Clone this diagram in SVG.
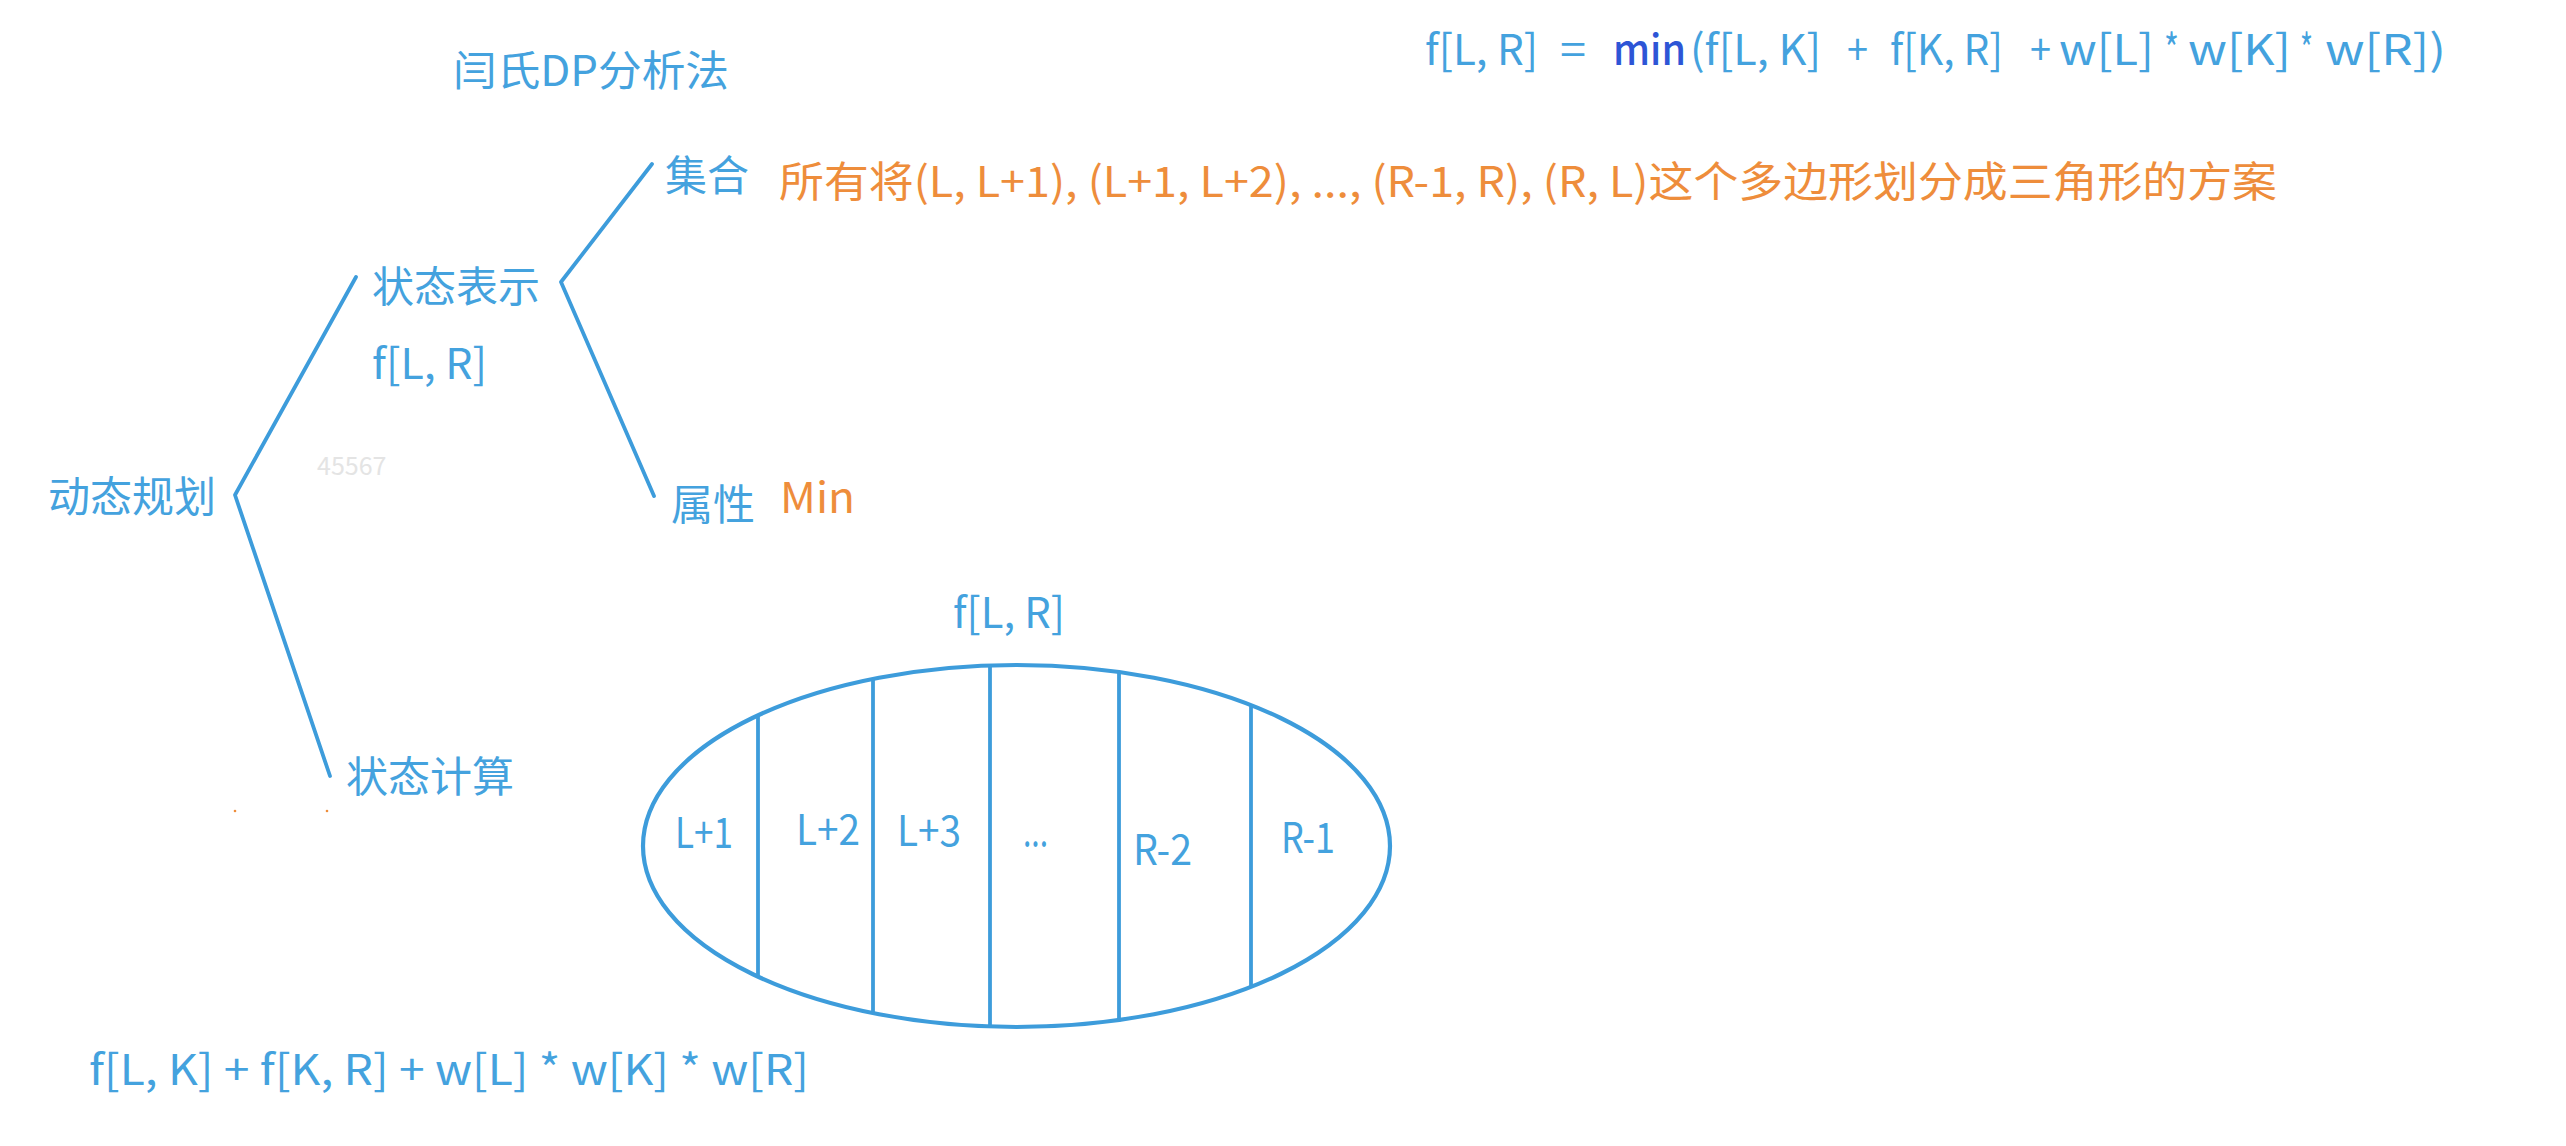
<svg xmlns="http://www.w3.org/2000/svg" width="2566" height="1146" viewBox="0 0 2566 1146">
<style>
text{font-family:"Noto Sans CJK SC","Noto Sans",sans-serif;font-size:42px;fill:#44a2de}
.or{fill:#ee8d3b}
.mn{fill:#2d55d6;font-weight:500}
.wm{fill:#e4e4e4;font-size:25px}
.ln{stroke:#3d9cdb;stroke-width:3.8;fill:none;stroke-linejoin:round;stroke-linecap:round}
.lab{font-size:42px}
</style>
<rect width="2566" height="1146" fill="#ffffff"/>
<g id="title"><text x="453" y="86" font-size="43" textLength="276" lengthAdjust="spacingAndGlyphs">闫氏DP分析法</text></g>
<g id="formula-top">
<text x="1425" y="65" textLength="113" lengthAdjust="spacingAndGlyphs">f[L, R]</text>
<text x="1560" y="65" textLength="26" lengthAdjust="spacingAndGlyphs">=</text>
<text x="1613" y="65" class="mn" textLength="73" lengthAdjust="spacingAndGlyphs">min</text>
<text x="1690" y="65" textLength="131" lengthAdjust="spacingAndGlyphs">(f[L, K]</text>
<text x="1847" y="65" textLength="21" lengthAdjust="spacingAndGlyphs">+</text>
<text x="1890" y="65" textLength="113" lengthAdjust="spacingAndGlyphs">f[K, R]</text>
<text x="2030" y="65" textLength="21" lengthAdjust="spacingAndGlyphs">+</text>
<text x="2059" y="65" textLength="95" lengthAdjust="spacingAndGlyphs">w[L]</text>
<text x="2164" y="65" textLength="15" lengthAdjust="spacingAndGlyphs">*</text>
<text x="2188" y="65" textLength="103" lengthAdjust="spacingAndGlyphs">w[K]</text>
<text x="2300" y="65" textLength="13" lengthAdjust="spacingAndGlyphs">*</text>
<text x="2325" y="65" textLength="121" lengthAdjust="spacingAndGlyphs">w[R])</text>
</g>
<g id="dp"><text x="48" y="512">动态规划</text></g>
<g id="watermark"><text class="wm" x="317" y="475">45567</text></g>
<g id="state-repr"><text x="372" y="302">状态表示</text><text x="372" y="379" textLength="115" lengthAdjust="spacingAndGlyphs">f[L, R]</text></g>
<g id="set"><text x="665" y="191">集合</text><text class="or" x="779" y="197" font-size="41" textLength="1498" lengthAdjust="spacingAndGlyphs">所有将(L, L+1), (L+1, L+2), ..., (R-1, R), (R, L)这个多边形划分成三角形的方案</text></g>
<g id="attr"><text x="671" y="520">属性</text><text class="or" x="780" y="513" textLength="75" lengthAdjust="spacingAndGlyphs">Min</text></g>
<g id="state-calc"><text x="346" y="792">状态计算</text></g>
<g id="formula-bottom"><text x="89" y="1085" textLength="720" lengthAdjust="spacingAndGlyphs">f[L, K] + f[K, R] + w[L] * w[K] * w[R]</text></g>
<g id="polygon">
<text x="953" y="628" textLength="112" lengthAdjust="spacingAndGlyphs">f[L, R]</text>
<ellipse class="ln" cx="1016.5" cy="846" rx="373.5" ry="181" style="stroke-width:4.2"/>
<line class="ln" x1="758" y1="716" x2="758" y2="976"/>
<line class="ln" x1="873" y1="680" x2="873" y2="1012"/>
<line class="ln" x1="990" y1="666" x2="990" y2="1026"/>
<line class="ln" x1="1119" y1="673" x2="1119" y2="1020"/>
<line class="ln" x1="1251" y1="706" x2="1251" y2="986"/>
<text class="lab" x="675" y="848" textLength="58" lengthAdjust="spacingAndGlyphs">L+1</text>
<text class="lab" x="796" y="845" textLength="64" lengthAdjust="spacingAndGlyphs">L+2</text>
<text class="lab" x="897" y="846" textLength="64" lengthAdjust="spacingAndGlyphs">L+3</text>
<text class="lab" x="1023" y="846" textLength="25" lengthAdjust="spacingAndGlyphs">...</text>
<text class="lab" x="1133" y="865" textLength="59" lengthAdjust="spacingAndGlyphs">R-2</text>
<text class="lab" x="1281" y="853" textLength="54" lengthAdjust="spacingAndGlyphs">R-1</text>
</g>
<g id="connectors">
<polyline class="ln" points="356,277 235,495 330,776"/>
<polyline class="ln" points="652,164 561,282 654,496"/>
<circle cx="235" cy="811" r="1.3" fill="#ee8d3b"/>
<circle cx="327" cy="811" r="1.3" fill="#ee8d3b"/>
</g>
</svg>
